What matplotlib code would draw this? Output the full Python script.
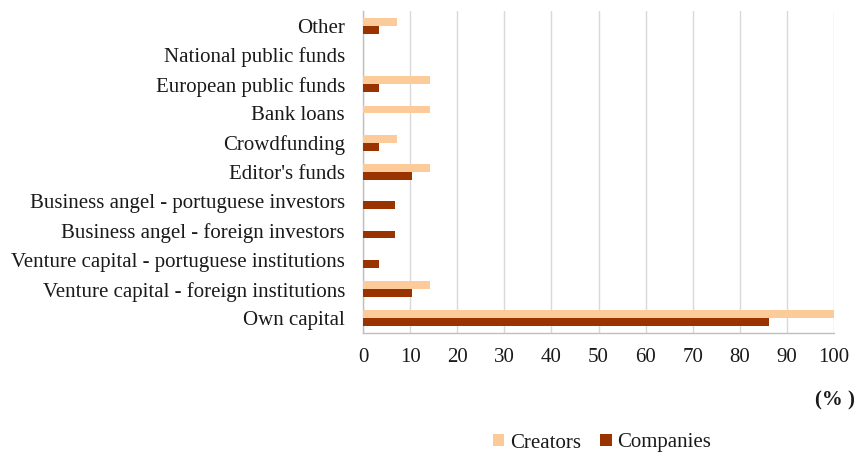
import matplotlib
matplotlib.use("Agg")
import matplotlib.pyplot as plt
import numpy as np

categories = [
    "Own capital",
    "Venture capital - foreign institutions",
    "Venture capital - portuguese institutions",
    "Business angel - foreign investors",
    "Business angel - portuguese investors",
    "Editor's funds",
    "Crowdfunding",
    "Bank loans",
    "European public funds",
    "National public funds",
    "Other",
]
creators = [100.0, 14.29, 0.0, 0.0, 0.0, 14.29, 7.14, 14.29, 14.29, 0.0, 7.14]
companies = [86.21, 10.34, 3.45, 6.90, 6.90, 10.34, 3.45, 0.0, 3.45, 0.0, 3.45]
xticks = list(range(0, 101, 10))

plt.rcParams["font.family"] = ["Liberation Serif", "DejaVu Serif"]
FS = 15
TXT = "#1a1a1a"

fig = plt.figure(figsize=(8.57, 4.54), dpi=100)
ax = fig.add_axes([363 / 857, 1 - 333 / 454, (834 - 363) / 857, (333 - 11) / 454])

y = np.arange(len(categories))
h = 0.27
ax.barh(y + h / 2, creators, height=h, color="#FDCB9A", label="Creators", zorder=3)
ax.barh(y - h / 2, companies, height=h, color="#993300", label="Companies", zorder=3)

ax.set_xlim(0, 100)
ax.set_ylim(-0.5, len(categories) - 0.5)
ax.set_xticks(xticks)
ax.set_xticklabels([str(t) for t in xticks], fontsize=FS, color=TXT)
ax.set_yticks(y)
ax.set_yticklabels(categories, fontsize=FS, color=TXT)
ax.tick_params(axis="y", length=0, pad=13)
ax.tick_params(axis="x", length=0, pad=11)

ax.grid(axis="x", color="#d9d9d9", linewidth=1, zorder=0)
for s in ["top", "right"]:
    ax.spines[s].set_visible(False)
for s in ["left", "bottom"]:
    ax.spines[s].set_color("#bfbfbf")
    ax.spines[s].set_linewidth(1)

fig.text(855 / 857, 1 - 400 / 454, "(% )", fontsize=FS, fontweight="bold",
         ha="right", va="center", color=TXT)

fig.legend(loc="center", bbox_to_anchor=(602 / 857, 1 - 443 / 454), ncol=2,
           frameon=False, fontsize=FS, handlelength=0.55, handleheight=0.55,
           handletextpad=0.25, columnspacing=0.95, labelcolor=TXT)

fig.savefig("out.png", dpi=100)
